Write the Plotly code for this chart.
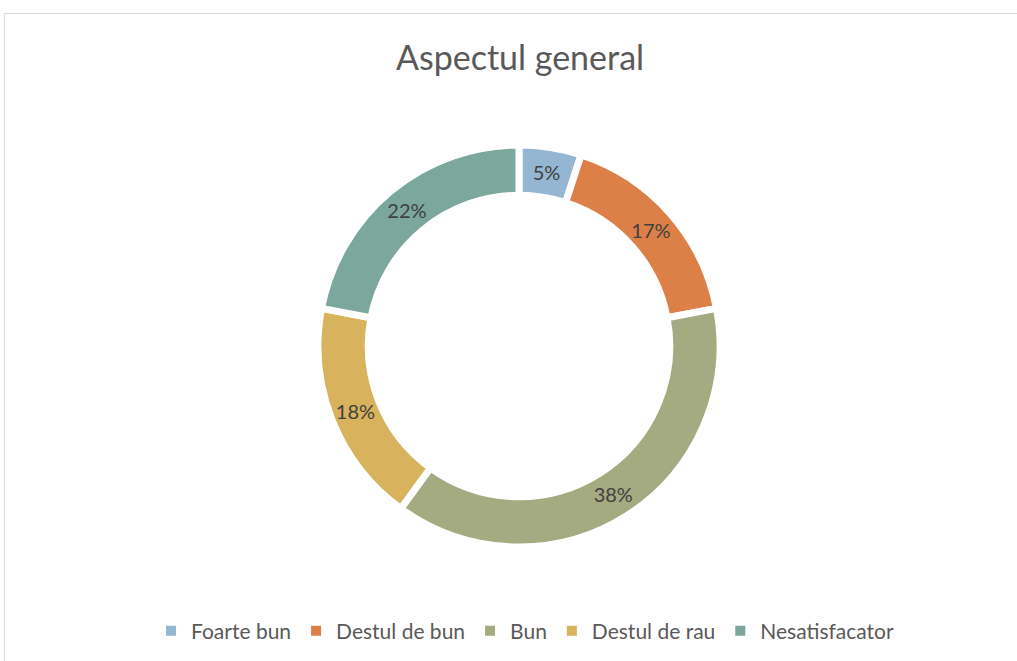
import plotly.graph_objects as go

labels = ["Foarte bun", "Destul de bun", "Bun", "Destul de rau", "Nesatisfacator"]
values = [5, 17, 38, 18, 22]
colors = ["#94B6D2", "#DD8047", "#A5AB81", "#D8B25C", "#7BA79D"]

W, H = 1017, 661
cx, cy, r = 519, 346, 201

fig = go.Figure(go.Pie(
    labels=labels,
    values=values,
    sort=False,
    direction="clockwise",
    rotation=0,
    hole=0.75,
    marker=dict(colors=colors, line=dict(color="white", width=7)),
    texttemplate="%{percent:.0%}",
    textposition="inside",
    insidetextorientation="horizontal",
    textfont=dict(family="Lato, Open Sans, sans-serif", size=20, color="#404040"),
    domain=dict(x=[(cx - r) / W, (cx + r) / W], y=[(H - cy - r) / H, (H - cy + r) / H]),
    showlegend=True,
))

fig.update_layout(
    width=W, height=H,
    margin=dict(l=0, r=0, t=0, b=0),
    paper_bgcolor="white",
    title=dict(text="Aspectul general", x=520 / W, xanchor="center", y=1 - 58 / H,
               yanchor="middle",
               font=dict(family="Lato, Open Sans, sans-serif", size=34, color="#595959")),
    legend=dict(orientation="h", x=525 / W, xanchor="center", y=1 - 631 / H,
                yanchor="middle",
                font=dict(family="Lato, Open Sans, sans-serif", size=21, color="#595959"),
                itemsizing="constant"),
    shapes=[
        dict(type="line", xref="paper", yref="paper", x0=4.5 / W, x1=1,
             y0=1 - 13.5 / H, y1=1 - 13.5 / H,
             line=dict(color="#D9D9D9", width=1)),
        dict(type="line", xref="paper", yref="paper", x0=4.5 / W, x1=4.5 / W,
             y0=0, y1=1 - 13.5 / H,
             line=dict(color="#D9D9D9", width=1)),
    ],
)

fig.write_html("out.html", config={"displayModeBar": False},
               post_script="document.body.style.margin='0px';")
